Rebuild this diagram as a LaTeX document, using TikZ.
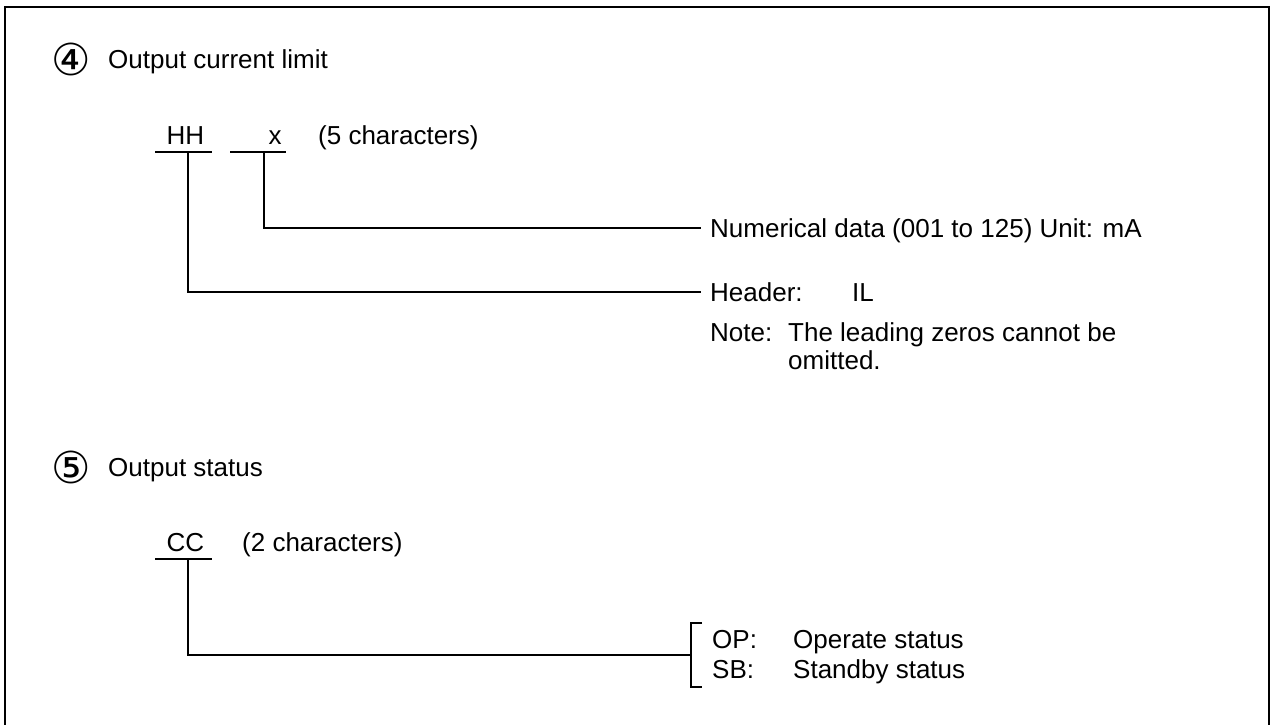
\documentclass[tikz,border=0pt]{standalone}
\usepackage{fontspec}
\setmainfont{Liberation Sans}
\newfontfamily\symf{DejaVu Sans}
\begin{document}
\begin{tikzpicture}[x=1pt,y=-1pt,
  txt/.style={font=\fontsize{26}{30}\selectfont, inner sep=0pt, anchor=base west},
  ctxt/.style={txt, anchor=base},
  circ/.style={font=\symf\fontsize{44}{48}\selectfont, inner sep=0pt, anchor=center},
  ln/.style={line width=1.8pt},
  frame/.style={line width=2.6pt}]
\useasboundingbox (0,0) rectangle (1277,725);
\draw[frame] (5,725) -- (5,7) -- (1269,7) -- (1269,725);

% Section 4
\node[circ] (c4) at (71,59) {④};
\node[txt] (t4) at (108,68) {Output current limit};
\node[ctxt] (hh) at (185.5,144) {HH};
\node[ctxt] (xx) at (275,144) {x};
\node[txt] (n5c) at (318,144) {(5 characters)};
\coordinate (u1a) at (155,152);
\coordinate (u1b) at (212,152);
\coordinate (u1c) at (188,152);
\coordinate (u2a) at (230,152);
\coordinate (u2b) at (286,152);
\coordinate (u2c) at (264,152);
\draw[ln] (u1a) -- (u1b);
\draw[ln] (u2a) -- (u2b);
\node[txt] (num) at (710,237) {Numerical data (001 to 125) Unit: mA};
\node[txt] (hdr) at (710,301) {Header:};
\node[txt] (il) at (852,301) {IL};
\node[txt] (note) at (710,341) {Note:};
\node[txt] (note1) at (788,341) {The leading zeros cannot be};
\node[txt] (note2) at (788,369) {omitted.};
\coordinate (e1) at (701,228);
\coordinate (e2) at (701,292);
\draw[ln] (u2c) |- (e1);
\draw[ln] (u1c) |- (e2);

% Section 5
\node[circ] (c5) at (71,467) {⑤};
\node[txt] (t5) at (108,476) {Output status};
\node[ctxt] (cc) at (185.5,551) {CC};
\node[txt] (n2c) at (242,551) {(2 characters)};
\coordinate (u3a) at (155,559);
\coordinate (u3b) at (212,559);
\coordinate (u3c) at (188,559);
\draw[ln] (u3a) -- (u3b);
\coordinate (br) at (691,655);
\draw[ln] (702,623) -- (691,623) -- (691,687) -- (702,687);
\draw[ln] (u3c) |- (br);
\node[txt] (op) at (712,648) {OP:};
\node[txt] (opt) at (793,648) {Operate status};
\node[txt] (sb) at (712,678) {SB:};
\node[txt] (sbt) at (793,678) {Standby status};
\end{tikzpicture}
\end{document}
